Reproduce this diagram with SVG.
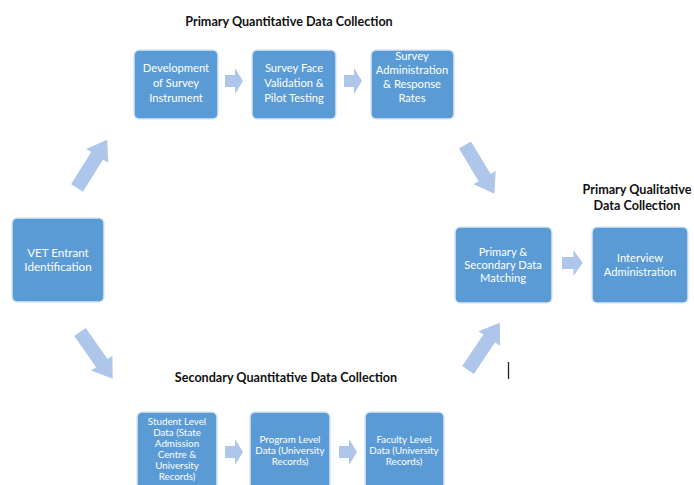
<svg xmlns="http://www.w3.org/2000/svg" width="694" height="485" viewBox="0 0 694 485">
<defs>
<style>
.box{fill:#5B9BD5;stroke:#DCE8F5;stroke-width:1.5}
.t{font-family:Lato,"Open Sans","Liberation Sans",sans-serif;fill:#fff;text-anchor:middle;font-size:11.2px}
.ts{font-family:Lato,"Open Sans","Liberation Sans",sans-serif;fill:#fff;text-anchor:middle;font-size:9.8px}
.h{font-family:Lato,"Open Sans","Liberation Sans",sans-serif;fill:#111;text-anchor:middle;font-size:12.6px;font-weight:bold}
.arr{fill:#AEC6EA}
</style>
<polygon id="big" points="0,-7 38,-7 38,-13 57,0 38,13 38,7 0,7"/>
<polygon id="small" points="0,-6 10,-6 10,-13 18,0 10,13 10,6 0,6"/>
</defs>
<rect width="694" height="485" fill="#fff"/>

<text class="h" x="289" y="26">Primary Quantitative Data Collection</text>
<text class="h" x="637" y="194">Primary Qualitative</text>
<text class="h" x="637" y="210">Data Collection</text>
<text class="h" x="286" y="382">Secondary Quantitative Data Collection</text>

<g id="n-vet"><rect class="box" x="12" y="218" width="92" height="84" rx="5"/>
<text class="t" x="58" y="257" style="font-size:11.6px">VET Entrant</text>
<text class="t" x="58" y="271" style="font-size:11.6px">Identification</text></g>

<g id="n-dev"><rect class="box" x="134" y="50" width="84" height="69" rx="5"/>
<text class="t" x="176" y="72">Development</text>
<text class="t" x="176" y="87">of Survey</text>
<text class="t" x="176" y="102">Instrument</text></g>

<g id="n-face"><rect class="box" x="252" y="50" width="84" height="69" rx="5"/>
<text class="t" x="294" y="72">Survey Face</text>
<text class="t" x="294" y="87">Validation &amp;</text>
<text class="t" x="294" y="102">Pilot Testing</text></g>

<g id="n-admin"><rect class="box" x="371" y="50" width="83" height="69" rx="5"/>
<text class="t" x="412" y="60">Survey</text>
<text class="t" x="412" y="74">Administration</text>
<text class="t" x="412" y="88">&amp; Response</text>
<text class="t" x="412" y="102">Rates</text></g>

<g id="n-match"><rect class="box" x="455" y="227" width="97" height="76" rx="5"/>
<text class="t" x="503" y="256">Primary &amp;</text>
<text class="t" x="503" y="269">Secondary Data</text>
<text class="t" x="503" y="282">Matching</text></g>

<g id="n-interview"><rect class="box" x="592" y="227" width="96" height="76" rx="5"/>
<text class="t" x="640" y="262">Interview</text>
<text class="t" x="640" y="276">Administration</text></g>

<g id="n-student"><rect class="box" x="137" y="412" width="80" height="80" rx="5"/>
<text class="ts" x="177" y="425">Student Level</text>
<text class="ts" x="177" y="436">Data (State</text>
<text class="ts" x="177" y="447">Admission</text>
<text class="ts" x="177" y="458">Centre &amp;</text>
<text class="ts" x="177" y="469">University</text>
<text class="ts" x="177" y="480">Records)</text></g>

<g id="n-program"><rect class="box" x="250" y="412" width="80" height="80" rx="5"/>
<text class="ts" x="290" y="443">Program Level</text>
<text class="ts" x="290" y="454">Data (University</text>
<text class="ts" x="290" y="465">Records)</text></g>

<g id="n-faculty"><rect class="box" x="365" y="412" width="79" height="80" rx="5"/>
<text class="ts" x="404" y="443">Faculty Level</text>
<text class="ts" x="404" y="454">Data (University</text>
<text class="ts" x="404" y="465">Records)</text></g>

<g id="connectors" class="arr">
<use href="#big" transform="translate(77,188) rotate(-58)"/>
<use href="#big" transform="translate(465,145) rotate(59)"/>
<use href="#big" transform="translate(80,332) rotate(55)"/>
<use href="#big" transform="translate(468,370) rotate(-56)"/>
<use href="#small" transform="translate(225,81)"/>
<use href="#small" transform="translate(344,81)"/>
<use href="#small" transform="translate(562,263) scale(1.15,1)"/>
<use href="#small" transform="translate(225,452)"/>
<use href="#small" transform="translate(339,452)"/>
</g>
<line x1="508.5" y1="362" x2="508.5" y2="379" stroke="#222" stroke-width="1.3"/>
</svg>
